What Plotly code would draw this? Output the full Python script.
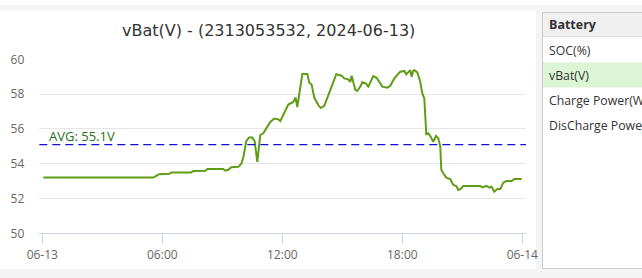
import plotly.graph_objects as go
import pandas as pd

W, H = 642, 278

# ---- data ----
hours = [0.05, 5.55, 5.7, 5.85, 6.35, 6.45, 7.45, 7.55, 8.15, 8.25, 9.05, 9.15, 9.3, 9.45,
         9.8, 9.95, 10.05, 10.2, 10.33, 10.5, 10.62, 10.7, 10.75, 10.82, 10.9, 11.05, 11.2,
         11.4, 11.6, 11.8, 11.9, 12.1, 12.3, 12.55, 12.67, 12.75, 12.9, 13.0, 13.25, 13.35,
         13.47, 13.6, 13.8, 13.92, 14.1, 14.3, 14.55, 14.7, 14.97, 15.1, 15.3, 15.4, 15.47,
         15.55, 15.65, 15.75, 15.9, 16.0, 16.17, 16.3, 16.4, 16.55, 16.72, 16.9, 17.0, 17.25,
         17.4, 17.6, 17.9, 18.1, 18.2, 18.4, 18.47, 18.55, 18.6, 18.75, 18.9, 19.0, 19.1,
         19.2, 19.3, 19.42, 19.55, 19.68, 19.8, 19.9, 19.95, 20.05, 20.2, 20.4, 20.55, 20.7,
         20.8, 20.92, 21.05, 21.9, 22.0, 22.2, 22.35, 22.47, 22.6, 22.75, 22.9, 23.05, 23.2,
         23.47, 23.6, 23.97]
vbat = [53.2, 53.2, 53.3, 53.4, 53.42, 53.5, 53.5, 53.58, 53.6, 53.7, 53.7, 53.6, 53.65, 53.8,
        53.82, 54.0, 54.35, 55.3, 55.5, 55.5, 55.3, 54.5, 54.1, 54.8, 55.65, 55.75, 56.0,
        56.4, 56.6, 56.55, 56.45, 56.9, 57.4, 57.55, 57.8, 57.25, 58.4, 59.15, 59.15, 58.65,
        58.55, 57.8, 57.37, 57.2, 57.33, 57.95, 58.62, 59.14, 59.06, 58.9, 58.85, 58.7, 59.06,
        58.6, 58.25, 58.18, 58.43, 58.68, 58.62, 58.43, 58.7, 59.04, 58.94, 58.62, 58.43, 58.37,
        58.48, 58.9, 59.29, 59.33, 59.14, 59.38, 59.0, 59.35, 59.38, 59.25, 58.7, 58.04, 57.75,
        55.7, 55.75, 55.55, 55.26, 55.59, 55.46, 54.98, 53.64, 53.45, 53.2, 53.12, 52.78, 52.72,
        52.49, 52.55, 52.72, 52.72, 52.64, 52.72, 52.62, 52.68, 52.39, 52.55, 52.55, 52.91, 53.0,
        53.0, 53.12, 53.12]
avg_value = 55.1
title_text = "vBat(V) - (2313053532, 2024-06-13)"
tick_times = ["2024-06-13 00:00", "2024-06-13 06:00", "2024-06-13 12:00",
              "2024-06-13 18:00", "2024-06-14 00:00"]
tick_labels = ["06-13", "06:00", "12:00", "18:00", "06-14"]
y_ticks = [50, 52, 54, 56, 58, 60]
menu_header = "Battery"
menu_items = ["SOC(%)", "vBat(V)", "Charge Power(W)", "DisCharge Power(W)"]
selected_item = "vBat(V)"

base = pd.Timestamp("2024-06-13")
times = [base + pd.Timedelta(minutes=round(h * 60)) for h in hours]

FONT = "Open Sans, Noto Sans, sans-serif"
TFONT = "DejaVu Sans, sans-serif"
def px_x(p): return p / W
def px_y(p): return (H - p) / H

fig = go.Figure()
fig.add_trace(go.Scatter(x=times, y=vbat, mode="lines",
                         line=dict(color="#5e9e16", width=2), hoverinfo="skip",
                         showlegend=False))

shapes = []
# background panels
shapes.append(dict(type="rect", xref="paper", yref="paper", x0=0, x1=px_x(536),
                   y0=px_y(269), y1=px_y(10), fillcolor="white", line=dict(width=0),
                   layer="below"))
shapes.append(dict(type="rect", xref="paper", yref="paper", x0=0, x1=1,
                   y0=px_y(5), y1=1, fillcolor="white", line=dict(width=0), layer="below"))
# right menu panel
shapes.append(dict(type="rect", xref="paper", yref="paper", x0=px_x(542.5), x1=px_x(660),
                   y0=px_y(268.5), y1=px_y(12.5), fillcolor="white",
                   line=dict(color="#cccccc", width=1), layer="below"))
shapes.append(dict(type="rect", xref="paper", yref="paper", x0=px_x(543), x1=px_x(660),
                   y0=px_y(36), y1=px_y(13), fillcolor="#f0f0f0",
                   line=dict(width=0), layer="below"))
shapes.append(dict(type="line", xref="paper", yref="paper", x0=px_x(543), x1=px_x(660),
                   y0=px_y(36.5), y1=px_y(36.5), line=dict(color="#dddddd", width=1),
                   layer="below"))
# avg line
shapes.append(dict(type="line", xref="x domain", yref="y", x0=0, x1=1,
                   y0=avg_value, y1=avg_value,
                   line=dict(color="#1010d8", width=1.3, dash="8px,5px")))

annotations = []
annotations.append(dict(text=title_text, xref="paper", yref="paper", x=px_x(268),
                        y=px_y(30), showarrow=False, xanchor="center", yanchor="middle",
                        font=dict(family=TFONT, size=16, color="#333333")))
annotations.append(dict(text=f"AVG: {avg_value}V", xref="paper", yref="y",
                        x=px_x(47), y=avg_value, yshift=9, showarrow=False,
                        xanchor="left", yanchor="middle",
                        font=dict(family=FONT, size=13, color="#1f7019")))
annotations.append(dict(text=f"<b>{menu_header}</b>", xref="paper", yref="paper",
                        x=px_x(547), y=px_y(24.5), showarrow=False, xanchor="left",
                        yanchor="middle", font=dict(family=FONT, size=12.5, color="#333333")))
row_y = [50.5, 75, 100, 125.5]
for name, ry in zip(menu_items, row_y):
    if name == selected_item:
        shapes.append(dict(type="rect", xref="paper", yref="paper", x0=px_x(543),
                           x1=px_x(660), y0=px_y(ry + 12.5), y1=px_y(ry - 12.5),
                           fillcolor="#dcf5d4", line=dict(width=0), layer="below"))
    annotations.append(dict(text=name, xref="paper", yref="paper", x=px_x(547),
                            y=px_y(ry), showarrow=False, xanchor="left", yanchor="middle",
                            font=dict(family=FONT, size=12.3, color="#333333")))

x0_t = base + pd.Timedelta(hours=-0.15)
x1_t = base + pd.Timedelta(hours=24.185)

fig.update_layout(
    width=W, height=H,
    margin=dict(l=0, r=0, t=0, b=0, autoexpand=False),
    paper_bgcolor="#f4f4f4",
    plot_bgcolor="white",
    shapes=shapes,
    annotations=annotations,
    showlegend=False,
    xaxis=dict(domain=[px_x(39.3), px_x(526)], range=[x0_t, x1_t], automargin=False,
               tickvals=[pd.Timestamp(t) for t in tick_times], ticktext=tick_labels,
               showgrid=False, zeroline=False, showline=True, linecolor="#ccd6eb",
               linewidth=1, ticks="outside", ticklen=10, tickcolor="#ccd6eb",
               tickfont=dict(family=FONT, size=12, color="#666666")),
    yaxis=dict(domain=[px_y(233.3), px_y(59.3)], range=[50, 60], tickvals=y_ticks,
               automargin=False,
               showgrid=True, gridcolor="#e6e6e6", gridwidth=1, zeroline=False,
               showline=False, ticks="", ticklabelstandoff=14,
               tickfont=dict(family=FONT, size=12, color="#666666")),
)

fig.write_html("out.html")
